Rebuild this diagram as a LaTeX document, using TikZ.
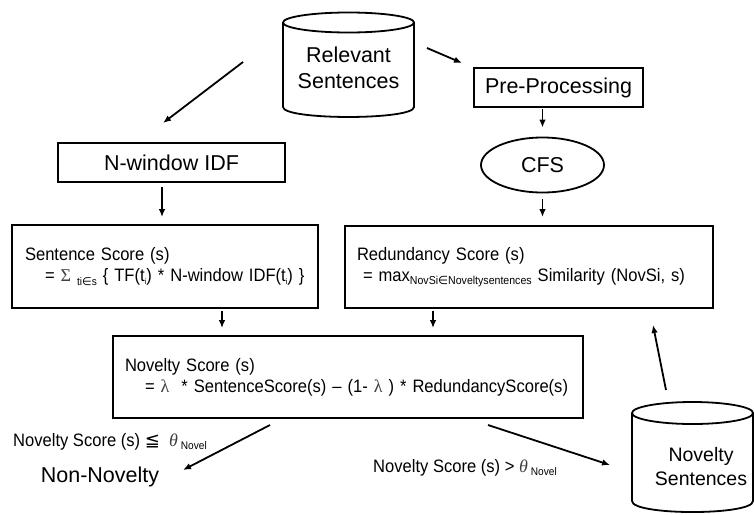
\documentclass[tikz,border=0pt]{standalone}
\usepackage{fontspec}
\setmainfont{Liberation Sans}
\newfontfamily\narrowfnt[FakeStretch=0.92]{Liberation Sans}
\newfontfamily\symfnt{DejaVu Sans}
\newfontfamily\serfnt{Liberation Serif}
\usetikzlibrary{arrows.meta,shapes.geometric,calc}
\newcommand{\grk}{\serfnt\color{black!75}}
\newcommand{\dsub}[2][11]{\raisebox{-3.5pt}{\fontsize{#1}{#1}\selectfont #2}}
\newcommand{\tsub}[1]{\raisebox{-3pt}{\fontsize{8}{8}\selectfont #1}}
\begin{document}
\begin{tikzpicture}[x=1pt,y=-1pt,
  every node/.style={font=\narrowfnt\fontsize{18}{21}\selectfont, inner sep=0pt},
  box/.style={draw, line width=1.8pt, align=left},
  bigbox/.style={draw, line width=1.8pt, font=\fontsize{21.5}{26}\selectfont},
  big/.style={font=\fontsize{21.5}{26}\selectfont, align=center},
  arr/.style={line width=1.8pt, -{Latex[length=8pt,width=6.5pt]}},
  cyl/.style={line width=1.8pt}]
\useasboundingbox (0,0) rectangle (754,514);

% Relevant Sentences cylinder
\draw[cyl] (348.5,22.5) ellipse [x radius=65.5, y radius=10];
\draw[cyl] (283,22.5) -- (283,107) .. controls (283,120.3) and (414,120.3) .. (414,107) -- (414,22.5);
\node[big] (rel) at (348.5,68) {Relevant\\Sentences};

% Novelty Sentences cylinder
\draw[cyl] (692.5,413) ellipse [x radius=60.5, y radius=11];
\draw[cyl] (632,413) -- (632,501) .. controls (632,515.7) and (753,515.7) .. (753,501) -- (753,413);
\node[font=\fontsize{19.5}{23.5}\selectfont, align=center] (novs) at (701,466.5) {Novelty\\Sentences};

% boxes
\node[bigbox, minimum width=169pt, minimum height=39pt] (pre) at (558.5,87.5) {Pre-Processing};
\node[bigbox, ellipse, minimum width=123pt, minimum height=55pt] (cfs) at (542.5,165) {CFS};
\node[bigbox, minimum width=227pt, minimum height=39pt] (nwin) at (171.5,162.5) {N-window IDF};

\node[box, inner xsep=13pt, text width=280pt, minimum height=83pt] (sent) at (165,266.5)
  {Sentence Score (s)\\\mbox{\hspace*{20pt}= {\grk Σ}\ \dsub{ti{\symfnt∈}s} \{ TF(t\tsub{i}) * N-window IDF(t\tsub{i}) \}}};
\node[box, inner xsep=12pt, text width=344pt, minimum height=82pt] (red) at (529,267)
  {Redundancy Score (s)\\\mbox{\hspace*{6pt}= max\dsub[11.5]{NovSi{\symfnt∈}Noveltysentences} Similarity (NovSi, s)}};
\node[box, inner xsep=12pt, text width=446pt, minimum height=82pt] (nov) at (348,377)
  {Novelty Score (s)\\\mbox{\hspace*{20pt}= {\grk λ}\ \ * SentenceScore(s) – (1- {\grk λ} ) * RedundancyScore(s)}};

% outputs
\node[big] (nonnov) at (100,477) {Non-Novelty};
\node[anchor=base west] (lab1) at (13,446) {Novelty Score (s) {\symfnt ≦}\ \ {\grk\itshape θ}\,\dsub{Novel}};
\node[anchor=base west] (lab2) at (373,472) {Novelty Score (s) >\ {\grk\itshape θ}\,\dsub{Novel}};

% connector end points
\coordinate (relL) at (243,62);
\coordinate (nwinT) at (163,123);
\coordinate (relR) at (427,48);
\coordinate (preT) at (462,63);
\coordinate (novL) at (270,425);
\coordinate (nonT) at (183,470);
\coordinate (novR) at (488,425);
\coordinate (novsT) at (610,465);
\coordinate (novsU) at (666,390);
\coordinate (redB) at (653,325);

% connectors
\draw[arr] (relL) -- (nwinT);
\draw[arr] (relR) -- (preT);
\draw[arr, shorten <=1pt, shorten >=9pt] (pre.south -| cfs.north) -- (cfs.north);
\draw[arr, shorten <=6pt, shorten >=8pt] (cfs.south) -- (cfs.south |- red.north);
\draw[arr, shorten <=4pt, shorten >=7pt] ([xshift=-9.5pt]nwin.south) -- ([xshift=-9.5pt]nwin.south |- sent.north);
\draw[arr, shorten <=2pt, shorten >=7pt] ([xshift=57pt]sent.south) -- ([xshift=57pt]sent.south |- nov.north);
\draw[arr, shorten <=2pt, shorten >=7pt] ([xshift=-96pt]red.south) -- ([xshift=-96pt]red.south |- nov.north);
\draw[arr] (novL) -- (nonT);
\draw[arr] (novR) -- (novsT);
\draw[arr] (novsU) -- (redB);
\end{tikzpicture}
\end{document}
